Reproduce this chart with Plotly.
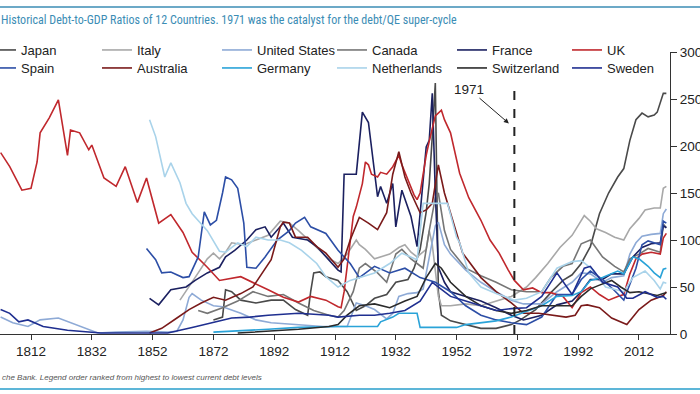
import plotly.graph_objects as go

# ---------------- data (approximate readings from the picture) ----------------
japan_years = [1872, 1875, 1876, 1878, 1881, 1886, 1891, 1895, 1899, 1903, 1904, 1905, 1907, 1909, 1913, 1916, 1919, 1922, 1925, 1929, 1932, 1936, 1938, 1940, 1942, 1943, 1944, 1945, 1946, 1947, 1950, 1955, 1960, 1965, 1970, 1973, 1978, 1983, 1987, 1990, 1993, 1996, 1999, 2002, 2005, 2007, 2009, 2011, 2013, 2015, 2017, 2018, 2019, 2020, 2021]
japan_values = [15, 18, 47, 45, 36, 33, 36, 36, 26, 20, 45, 65, 66, 61, 57, 45, 25, 30, 38, 42, 55, 58, 70, 90, 130, 160, 210, 267, 45, 20, 14, 10, 6, 6, 10, 15, 26, 44, 57, 63, 75, 93, 128, 150, 167, 176, 206, 228, 235, 231, 233, 236, 245, 256, 256]

italy_years = [1861, 1864, 1867, 1870, 1872, 1874, 1876, 1878, 1882, 1886, 1890, 1894, 1897, 1900, 1905, 1910, 1913, 1916, 1919, 1920, 1922, 1925, 1930, 1933, 1935, 1937, 1939, 1942, 1943, 1944, 1946, 1947, 1950, 1955, 1960, 1965, 1970, 1975, 1978, 1982, 1986, 1990, 1993, 1994, 1996, 1998, 2001, 2004, 2007, 2009, 2012, 2014, 2017, 2019, 2020, 2021]
italy_values = [36, 50, 65, 80, 86, 80, 87, 97, 95, 100, 105, 120, 118, 110, 95, 80, 75, 85, 100, 95, 90, 80, 85, 92, 95, 87, 82, 90, 110, 95, 40, 30, 30, 32, 30, 35, 40, 50, 60, 75, 92, 105, 120, 126, 120, 112, 108, 103, 100, 112, 123, 132, 134, 134, 155, 157]

us_years = [1802, 1806, 1811, 1815, 1821, 1825, 1829, 1834, 1840, 1850, 1857, 1860, 1862, 1864, 1865, 1868, 1872, 1875, 1881, 1886, 1891, 1900, 1908, 1913, 1916, 1919, 1922, 1925, 1929, 1931, 1933, 1936, 1939, 1941, 1943, 1945, 1946, 1948, 1950, 1955, 1960, 1965, 1970, 1974, 1980, 1985, 1990, 1993, 1996, 2000, 2003, 2007, 2009, 2011, 2013, 2016, 2019, 2020, 2021]
us_values = [18, 12, 8, 15, 17, 12, 7, 1, 2, 3, 2, 3, 15, 39, 43, 36, 30, 29, 22, 15, 12, 10, 8, 8, 8, 33, 30, 26, 16, 22, 40, 43, 44, 48, 80, 115, 119, 95, 85, 68, 55, 45, 36, 32, 32, 45, 55, 65, 64, 55, 60, 62, 85, 97, 104, 106, 107, 128, 133]

canada_years = [1867, 1870, 1875, 1880, 1885, 1890, 1895, 1900, 1905, 1910, 1913, 1915, 1918, 1920, 1922, 1926, 1929, 1932, 1934, 1937, 1939, 1941, 1943, 1945, 1946, 1948, 1950, 1955, 1960, 1965, 1970, 1975, 1980, 1983, 1987, 1990, 1993, 1996, 2000, 2004, 2007, 2009, 2012, 2015, 2019, 2020, 2021]
canada_values = [25, 22, 28, 35, 45, 40, 42, 33, 25, 20, 18, 25, 45, 70, 75, 65, 55, 85, 90, 80, 75, 70, 110, 145, 150, 110, 90, 70, 62, 55, 47, 45, 45, 60, 72, 75, 96, 100, 82, 72, 66, 80, 85, 91, 87, 117, 113]

france_years = [1851, 1854, 1858, 1863, 1866, 1870, 1874, 1876, 1879, 1883, 1886, 1889, 1891, 1895, 1898, 1903, 1906, 1909, 1913, 1914, 1915, 1919, 1921, 1923, 1924, 1926, 1927, 1929, 1931, 1932, 1934, 1935, 1937, 1939, 1941, 1942, 1943, 1944, 1945, 1946, 1948, 1950, 1955, 1960, 1965, 1970, 1974, 1980, 1985, 1990, 1993, 1996, 2000, 2003, 2007, 2010, 2013, 2016, 2019, 2020, 2021]
france_values = [38, 31, 47, 50, 57, 65, 71, 82, 89, 100, 111, 114, 103, 118, 103, 100, 93, 82, 68, 66, 170, 170, 236, 225, 199, 146, 157, 139, 160, 114, 153, 143, 125, 93, 164, 199, 206, 256, 150, 71, 55, 45, 40, 35, 28, 20, 15, 20, 31, 35, 45, 58, 58, 64, 64, 82, 92, 96, 97, 115, 113]

uk_years = [1802, 1805, 1809, 1812, 1814, 1815, 1818, 1821, 1824, 1825, 1828, 1831, 1832, 1836, 1840, 1843, 1847, 1850, 1854, 1858, 1862, 1865, 1870, 1874, 1881, 1885, 1890, 1895, 1900, 1904, 1909, 1913, 1914, 1915, 1916, 1917, 1918, 1919, 1921, 1922, 1923, 1924, 1926, 1927, 1929, 1931, 1933, 1934, 1936, 1938, 1939, 1940, 1941, 1942, 1943, 1944, 1945, 1947, 1948, 1950, 1953, 1956, 1960, 1963, 1966, 1969, 1971, 1974, 1977, 1980, 1983, 1987, 1990, 1993, 1996, 1999, 2002, 2005, 2007, 2009, 2011, 2013, 2016, 2019, 2020, 2021]
uk_values = [193, 178, 153, 155, 183, 214, 230, 249, 190, 217, 214, 196, 201, 166, 157, 178, 140, 166, 118, 127, 108, 87, 71, 57, 61, 55, 47, 39, 34, 40, 36, 29, 28, 45, 70, 100, 125, 135, 160, 183, 180, 170, 167, 172, 170, 178, 190, 180, 165, 148, 143, 150, 170, 190, 205, 220, 232, 238, 228, 214, 171, 145, 121, 100, 86, 68, 57, 47, 49, 44, 44, 40, 28, 44, 50, 42, 36, 40, 42, 64, 80, 85, 87, 85, 102, 107]

spain_years = [1850, 1853, 1855, 1858, 1862, 1864, 1867, 1869, 1871, 1873, 1875, 1876, 1878, 1880, 1882, 1883, 1886, 1889, 1893, 1897, 1899, 1902, 1904, 1909, 1913, 1917, 1920, 1925, 1930, 1935, 1940, 1945, 1950, 1955, 1960, 1965, 1970, 1975, 1980, 1985, 1990, 1993, 1996, 2000, 2004, 2007, 2009, 2011, 2013, 2015, 2019, 2020, 2021]
spain_values = [91, 79, 65, 66, 60, 61, 82, 130, 116, 121, 150, 167, 164, 155, 118, 71, 70, 82, 100, 110, 118, 124, 114, 107, 89, 75, 60, 72, 65, 70, 60, 55, 45, 30, 20, 15, 12, 10, 18, 42, 42, 58, 67, 58, 46, 36, 53, 70, 95, 99, 95, 120, 118]

australia_years = [1851, 1855, 1860, 1864, 1868, 1872, 1876, 1881, 1885, 1888, 1891, 1894, 1895, 1897, 1899, 1903, 1906, 1909, 1913, 1915, 1917, 1920, 1923, 1926, 1929, 1931, 1933, 1935, 1937, 1940, 1942, 1944, 1946, 1948, 1950, 1954, 1960, 1965, 1970, 1974, 1979, 1983, 1988, 1991, 1993, 1995, 1999, 2003, 2008, 2012, 2016, 2020, 2021]
australia_values = [1, 6, 17, 26, 33, 39, 36, 43, 50, 65, 79, 114, 119, 118, 103, 103, 93, 86, 71, 80, 100, 124, 118, 111, 129, 170, 194, 167, 150, 129, 132, 139, 180, 150, 129, 86, 60, 45, 33, 22, 22, 20, 18, 20, 30, 31, 28, 17, 10, 26, 36, 41, 45]

germany_years = [1872, 1880, 1890, 1900, 1910, 1913, 1920, 1926, 1927, 1931, 1933, 1939, 1940, 1952, 1955, 1960, 1965, 1970, 1975, 1980, 1985, 1990, 1993, 1996, 2000, 2003, 2005, 2007, 2010, 2012, 2015, 2017, 2019, 2020, 2021]
germany_values = [2, 3, 5, 7, 8, 8, 8, 8, 13, 18, 22, 22, 7, 7, 10, 12, 14, 18, 24, 30, 40, 41, 45, 57, 60, 64, 67, 64, 82, 80, 72, 65, 60, 69, 70]

netherlands_years = [1851, 1853, 1856, 1858, 1861, 1863, 1865, 1867, 1870, 1874, 1876, 1880, 1883, 1886, 1890, 1894, 1897, 1901, 1906, 1909, 1913, 1917, 1920, 1925, 1930, 1934, 1939, 1941, 1949, 1952, 1953, 1956, 1960, 1965, 1971, 1975, 1980, 1985, 1990, 1993, 1997, 2001, 2007, 2010, 2014, 2017, 2019, 2020, 2021]
netherlands_values = [228, 210, 167, 182, 161, 139, 128, 121, 110, 88, 87, 97, 93, 103, 100, 100, 97, 89, 75, 61, 50, 57, 60, 65, 75, 86, 79, 139, 139, 103, 97, 65, 50, 43, 36, 38, 45, 70, 77, 78, 68, 50, 45, 60, 67, 57, 48, 55, 54]

switzerland_years = [1880, 1890, 1900, 1910, 1913, 1916, 1920, 1925, 1930, 1935, 1939, 1942, 1945, 1947, 1950, 1955, 1960, 1965, 1970, 1975, 1980, 1985, 1990, 1993, 1996, 1999, 2003, 2006, 2009, 2012, 2015, 2018, 2020, 2021]
switzerland_values = [1, 3, 5, 8, 10, 20, 30, 32, 28, 35, 40, 60, 75, 70, 55, 40, 30, 25, 22, 25, 30, 30, 30, 40, 48, 52, 57, 50, 44, 45, 43, 41, 43, 44]

sweden_years = [1802, 1805, 1808, 1811, 1816, 1824, 1835, 1857, 1865, 1873, 1878, 1884, 1890, 1900, 1910, 1913, 1920, 1925, 1930, 1935, 1940, 1944, 1946, 1950, 1955, 1960, 1965, 1970, 1975, 1980, 1985, 1990, 1994, 1996, 2000, 2005, 2008, 2010, 2014, 2018, 2020, 2021]
sweden_values = [26, 22, 13, 15, 8, 4, 1, 1, 7, 13, 17, 18, 20, 22, 20, 18, 20, 20, 22, 25, 35, 55, 50, 40, 35, 30, 25, 27, 28, 40, 65, 42, 70, 72, 55, 50, 38, 38, 45, 39, 40, 37]

# name, years, values, colour  (legend order: row 1 then row 2)
series = [
    ("Japan", japan_years, japan_values, "#4a4a4a"),
    ("Italy", italy_years, italy_values, "#a8a8a8"),
    ("United States", us_years, us_values, "#8eaad6"),
    ("Canada", canada_years, canada_values, "#767676"),
    ("France", france_years, france_values, "#1b2060"),
    ("UK", uk_years, uk_values, "#c0282d"),
    ("Spain", spain_years, spain_values, "#2c4ea6"),
    ("Australia", australia_years, australia_values, "#7a1a1a"),
    ("Germany", germany_years, germany_values, "#2aa3d8"),
    ("Netherlands", netherlands_years, netherlands_values, "#a9d3ea"),
    ("Switzerland", switzerland_years, switzerland_values, "#2b2b2b"),
    ("Sweden", sweden_years, sweden_values, "#1f2f90"),
]

x_ticks = [1812, 1832, 1852, 1872, 1892, 1912, 1932, 1952, 1972, 1992, 2012]
y_ticks = [0, 50, 100, 150, 200, 250, 300]

marker_year = 1971
marker_top = 267

# ---------------- figure ----------------
W, H = 700, 394
ML, MR, MT, MB = 0, 30, 52, 60
PW, PH = W - ML - MR, H - MT - MB

def px_to_paper_y(py):
    return (H - MB - py) / PH

def px_to_paper_x(px):
    return (px - ML) / PW

FONT = "Liberation Sans, Arial, sans-serif"

# legend grid (text start x in px, row centre y in px)
legend_text_x = [21, 137, 257, 372, 492, 607]
legend_row_y = [50, 68]

fig = go.Figure()
layout_legends = {}
for i, (name, yrs, vals, col) in enumerate(series):
    key = "legend" if i == 0 else f"legend{i + 1}"
    fig.add_trace(go.Scatter(
        x=yrs, y=vals, mode="lines", name=name, legend=key,
        line=dict(color=col, width=1.6),
    ))
    layout_legends[key] = dict(
        orientation="h", xanchor="left", yanchor="middle",
        x=px_to_paper_x(legend_text_x[i % 6] - 40),
        y=px_to_paper_y(legend_row_y[i // 6]),
        font=dict(family=FONT, size=13, color="#222"),
        bgcolor="rgba(0,0,0,0)", itemwidth=30,
    )

fig.update_layout(
    width=W, height=H,
    margin=dict(l=ML, r=MR, t=MT, b=MB, autoexpand=False),
    plot_bgcolor="white", paper_bgcolor="white",
    font=dict(family=FONT, size=13, color="#222"),
    showlegend=True,
    xaxis=dict(
        range=[1801.8, 2022.2], tickvals=x_ticks, ticks="outside", ticklen=5,
        tickcolor="#333", showline=True, linecolor="#333", linewidth=1,
        showgrid=False, zeroline=False, tickfont=dict(size=13.5, color="#222"),
    ),
    yaxis=dict(
        side="right", range=[0, 300], tickvals=y_ticks, ticks="outside", ticklen=6,
        tickcolor="#333", showline=True, linecolor="#333", linewidth=1,
        showgrid=False, zeroline=False, tickfont=dict(size=13.5, color="#222"),
    ),
    **layout_legends,
)

# 1971 dashed marker
fig.add_shape(type="line", xref="x", yref="y", x0=marker_year, x1=marker_year,
              y0=0, y1=marker_top, line=dict(color="#222", width=2, dash="dash"))
fig.add_annotation(xref="x", yref="y", x=1969.2, y=224, axref="x", ayref="y",
                   ax=1956.1, ay=260.5, text="1971", showarrow=True, arrowhead=2,
                   arrowsize=1, arrowwidth=1, arrowcolor="#222",
                   font=dict(family=FONT, size=13.5, color="#222"))

# title and rules
fig.add_shape(type="line", xref="paper", yref="paper", x0=px_to_paper_x(0), x1=px_to_paper_x(700),
              y0=px_to_paper_y(7), y1=px_to_paper_y(7), line=dict(color="#3b8db5", width=1.5))
fig.add_shape(type="line", xref="paper", yref="paper", x0=px_to_paper_x(0), x1=px_to_paper_x(700),
              y0=px_to_paper_y(389), y1=px_to_paper_y(389), line=dict(color="#5db6d8", width=2))
fig.add_annotation(xref="paper", yref="paper", x=px_to_paper_x(-1), y=px_to_paper_y(20),
                   xanchor="left", yanchor="middle", showarrow=False,
                   text="Historical Debt-to-GDP Ratios of 12 Countries. 1971 was the catalyst for the debt/QE super-cycle",
                   font=dict(family="Roboto Condensed, Liberation Sans, Arial, sans-serif", size=12, color="#3b8db5"))
fig.add_annotation(xref="paper", yref="paper", x=px_to_paper_x(0), y=px_to_paper_y(377),
                   xanchor="left", yanchor="middle", showarrow=False,
                   text="che Bank. Legend order ranked from highest to lowest current debt levels",
                   font=dict(family=FONT, size=8, color="#555", style="italic"))

# remove the browser's default page margin so the figure sits at the window's corner
fig.write_html("out.html", config={"displayModeBar": False},
               post_script="document.body.style.margin='0';document.body.style.padding='0';")
